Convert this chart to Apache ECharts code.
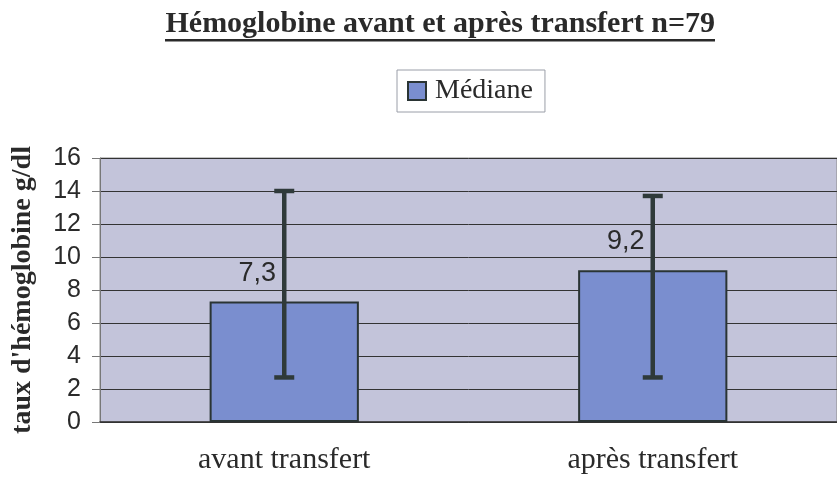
<!DOCTYPE html>
<html>
<head>
<meta charset="utf-8">
<script src="https://cdn.jsdelivr.net/npm/echarts@6/dist/echarts.min.js"></script>
<style>
  html, body { margin: 0; padding: 0; background: #fff; }
  #chart { width: 837px; height: 480px; }
</style>
</head>
<body>
<div id="chart"></div>
<script>
// data
var categories = ['avant transfert', 'après transfert'];
var medians = [7.3, 9.2];
var lows = [2.7, 2.7];
var highs = [14.0, 13.7];
var yTicks = [0, 2, 4, 6, 8, 10, 12, 14, 16];

var serif = '"Liberation Serif", "DejaVu Serif", serif';
var sans = '"Liberation Sans", Arial, sans-serif';
var titleTxt = 'Hémoglobine avant et après transfert n=79';

// measure title so the underline fits it
var cv = document.createElement('canvas').getContext('2d');
cv.font = 'bold 30px ' + serif;
var titleW = Math.round(cv.measureText(titleTxt).width);

var errData = categories.map(function (c, i) { return [i, lows[i], highs[i]]; });

var myChart = echarts.init(document.getElementById('chart'));
myChart.setOption({
	animation: false,
	title: {
		text: titleTxt,
		right: 122,
		top: 9,
		padding: 0,
		textStyle: { fontFamily: serif, fontSize: 30, fontWeight: 'bold', color: '#2a2a2a' }
	},
	legend: {
		data: ['Médiane'],
		icon: 'rect',
		top: 70,
		left: 397,
		itemWidth: 18,
		itemHeight: 18,
		padding: [7, 12, 7, 10],
		borderColor: '#9a9ea8',
		borderWidth: 1,
		textStyle: { fontFamily: serif, fontSize: 28, color: '#2a2a2a', padding: [0, 0, 0, 4] },
		itemStyle: { borderColor: '#2a3434', borderWidth: 2 }
	},
	grid: { left: 100, right: -9, top: 158, bottom: 58, containLabel: false,
		show: true, backgroundColor: '#c3c4da', borderColor: '#888', borderWidth: 1 },
	xAxis: {
		type: 'category',
		data: categories,
		boundaryGap: true,
		axisLine: { lineStyle: { color: '#333', width: 1.5 } },
		axisTick: { length: 8, lineStyle: { color: '#666' } },
		axisLabel: { fontFamily: serif, fontSize: 30, color: '#2a2a2a', margin: 23 }
	},
	yAxis: {
		type: 'value',
		min: 0, max: 16, interval: 2,
		name: "taux d'hémoglobine g/dl",
		nameLocation: 'middle',
		nameGap: 63,
		nameTextStyle: { fontFamily: serif, fontSize: 28, fontWeight: 'bold', color: '#2a2a2a' },
		axisLine: { show: true, lineStyle: { color: '#777' } },
		axisTick: { show: true, length: 8, lineStyle: { color: '#777' } },
		axisLabel: { fontFamily: sans, fontSize: 25, color: '#2a2a2a', margin: 19,
			formatter: function (v) { return yTicks.indexOf(v) >= 0 ? String(v) : ''; } },
		splitLine: { lineStyle: { color: '#333', width: 1 } }
	},
	series: [
		{
			name: 'Médiane',
			type: 'bar',
			data: medians,
			barWidth: '40.5%',
			itemStyle: { color: '#7a8ecf', borderColor: '#2a3434', borderWidth: 2 },
			label: {
				show: true, position: 'top', distance: 15, offset: [-27, 0],
				fontFamily: sans, fontSize: 27, color: '#2a2a2a',
				formatter: function (p) { return String(p.value).replace('.', ','); }
			},
			z: 2
		},
		{
			name: 'erreur',
			type: 'custom',
			data: errData,
			z: 5,
			renderItem: function (params, api) {
				var x = api.value(0);
				var lo = api.coord([x, api.value(1)]);
				var hi = api.coord([x, api.value(2)]);
				var half = 10;
				var st = { stroke: '#2f3a3a', lineWidth: 4.5 };
				return {
					type: 'group',
					children: [
						{ type: 'line', shape: { x1: hi[0], y1: hi[1], x2: lo[0], y2: lo[1] }, style: st },
						{ type: 'line', shape: { x1: hi[0] - half, y1: hi[1], x2: hi[0] + half, y2: hi[1] }, style: st },
						{ type: 'line', shape: { x1: lo[0] - half, y1: lo[1], x2: lo[0] + half, y2: lo[1] }, style: st }
					]
				};
			}
		}
	],
	graphic: [
		{ type: 'rect', right: 122, top: 39, shape: { width: titleW, height: 2.5 }, style: { fill: '#2a2a2a' } }
	]
});
</script>
</body>
</html>
